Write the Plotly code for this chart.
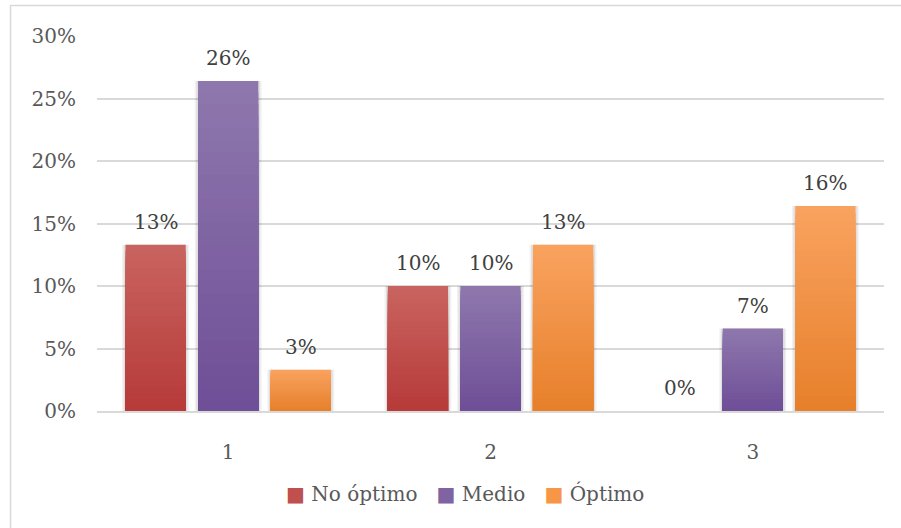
import plotly.graph_objects as go

# ---- data -------------------------------------------------------------
categories = ["1", "2", "3"]
series_names = ["No óptimo", "Medio", "Óptimo"]
no_optimo = [0.133, 0.100, 0.000]
medio = [0.264, 0.100, 0.066]
optimo = [0.033, 0.133, 0.164]
y_ticks = [0.0, 0.05, 0.10, 0.15, 0.20, 0.25, 0.30]

series_values = [no_optimo, medio, optimo]

# ---- style ------------------------------------------------------------
FONT = "DejaVu Serif"
TICK_COLOR = "#595959"
LABEL_COLOR = "#404040"
GRID_COLOR = "#d9d9d9"
top_colors = ["#c9635f", "#8e77ad", "#f9a25f"]
bottom_colors = ["#b63b39", "#6f4f97", "#e7802b"]
legend_colors = ["#c0504d", "#8064a2", "#f79646"]

BARGAP = 0.17
GROUPGAP = 0.17
STEPS = 28


def hex_to_rgb(h):
    h = h.lstrip("#")
    return tuple(int(h[i:i + 2], 16) for i in (0, 2, 4))


def mix(c1, c2, t):
    a, b = hex_to_rgb(c1), hex_to_rgb(c2)
    r = [round(a[k] + (b[k] - a[k]) * t) for k in range(3)]
    return "rgb({},{},{})".format(*r)


fig = go.Figure()

slot = (1 - BARGAP) / 3
bar_w = slot * (1 - GROUPGAP)

for j, (name, vals) in enumerate(zip(series_names, series_values)):
    # soft drop shadow behind each bar
    for extra, alpha in ((0.026, 0.05), (0.014, 0.08)):
        fig.add_trace(go.Bar(
            x=categories, y=vals, offsetgroup=name, width=bar_w + extra,
            marker=dict(color=f"rgba(0,0,0,{alpha})", line=dict(width=0)),
            showlegend=False, hoverinfo="skip",
        ))
    # vertical gradient: light at the top of each bar, darker at the base
    for s in range(STEPS):
        frac = 1 - s / STEPS
        fig.add_trace(go.Bar(
            x=categories, y=[v * frac for v in vals], offsetgroup=name,
            marker=dict(color=mix(top_colors[j], bottom_colors[j], s / (STEPS - 1)),
                        line=dict(width=0)),
            showlegend=False, hoverinfo="skip" if s else "y",
            name=name,
        ))
    # value labels above the bars
    for i, v in enumerate(vals):
        fig.add_annotation(
            x=i + (j - 1) * slot, y=v, xref="x", yref="y",
            text=f"{round(v * 100):.0f}%", showarrow=False,
            yanchor="bottom", yshift=9,
            font=dict(family=FONT, size=20, color=LABEL_COLOR),
        )

# legend row built as a single centred line of text
NB = "\u00a0"
legend_parts = []
for name, col in zip(series_names, legend_colors):
    legend_parts.append(f"<span style='color:{col}'>■</span>{NB}{name}")
fig.add_annotation(
    x=0.467, y=-0.22, xref="paper", yref="paper",
    text=(NB * 3).join(legend_parts), showarrow=False,
    xanchor="center", yanchor="middle",
    font=dict(family=FONT, size=20, color=TICK_COLOR),
)

# light frame around the chart area
fig.add_shape(
    type="rect", xref="paper", yref="paper",
    x0=-0.1099, x1=1.13, y0=-0.4, y1=1.0813,
    line=dict(color=GRID_COLOR, width=1.5), fillcolor="rgba(0,0,0,0)",
    layer="below",
)

fig.update_layout(
    width=901, height=528,
    margin=dict(l=97, r=17, t=36, b=117),
    paper_bgcolor="white", plot_bgcolor="white",
    barmode="group", bargap=BARGAP, bargroupgap=GROUPGAP,
    showlegend=False,
    font=dict(family=FONT, size=20, color=TICK_COLOR),
    xaxis=dict(
        type="category", categoryorder="array", categoryarray=categories,
        showgrid=False, showline=True, linecolor=GRID_COLOR, linewidth=1.5,
        ticks="", ticklabelstandoff=22,
        tickfont=dict(family=FONT, size=20, color=TICK_COLOR),
    ),
    yaxis=dict(
        range=[0, 0.30], tickvals=y_ticks, tickformat=".0%",
        showgrid=True, gridcolor=GRID_COLOR, gridwidth=1.5,
        zeroline=False, showline=False, ticks="", ticklabelstandoff=20,
        tickfont=dict(family=FONT, size=20, color=TICK_COLOR),
    ),
)

fig.write_html("out.html")
